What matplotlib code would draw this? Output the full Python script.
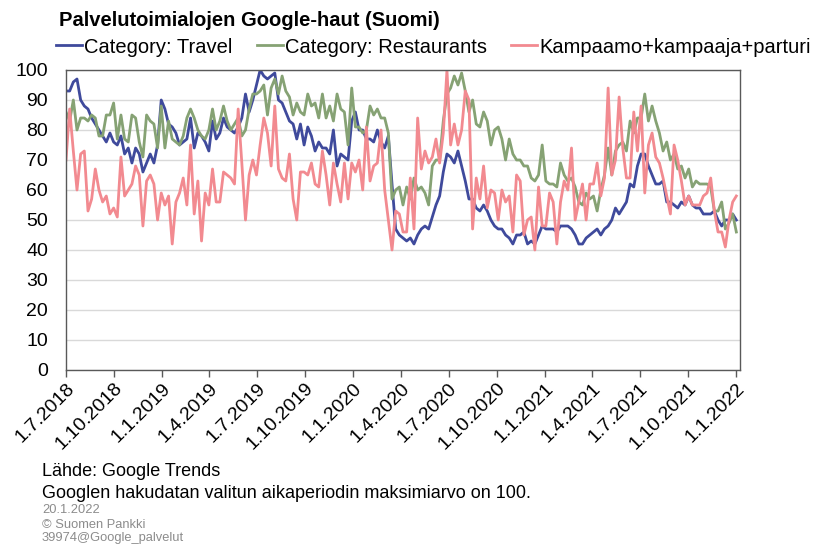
import matplotlib
matplotlib.use('Agg')
import matplotlib.pyplot as plt
import numpy as np
import pandas as pd

'''
Palvelutoimialojen Google-haut (Suomi), weekly Google Trends index
'''

plt.rcParams['font.family'] = ['Liberation Sans', 'DejaVu Sans']

start = '2018-07-01'
n_weeks = 184

travel = [93, 93, 96, 97, 90, 88, 87, 84, 82, 80,
          78, 76, 79, 76, 75, 78, 72, 74, 69, 74,
          72, 66, 69, 72, 69, 75, 90, 87, 82, 81,
          79, 75, 76, 77, 84, 74, 79, 78, 76, 73,
          83, 77, 79, 84, 81, 80, 79, 81, 84, 92,
          86, 90, 95, 100, 98, 97, 98, 99, 90, 89,
          86, 83, 82, 77, 82, 75, 81, 78, 73, 76,
          74, 74, 72, 80, 68, 72, 71, 70, 83, 86,
          80, 80, 77, 77, 76, 80, 76, 74, 78, 62,
          47, 45, 44, 43, 44, 42, 45, 47, 48, 47,
          51, 55, 58, 66, 72, 71, 69, 73, 68, 63,
          57, 57, 54, 53, 55, 53, 50, 48, 47, 47,
          45, 44, 42, 45, 45, 46, 42, 43, 42, 45,
          48, 47, 47, 47, 46, 48, 48, 48, 47, 45,
          42, 42, 44, 45, 46, 47, 45, 47, 48, 50,
          54, 52, 54, 56, 62, 61, 68, 72, 72, 68,
          65, 62, 62, 63, 56, 56, 55, 54, 56, 55,
          58, 55, 54, 54, 52, 52, 52, 53, 50, 48,
          50, 50, 52, 50]

restaurants = [86, 83, 90, 80, 84, 84, 83, 85, 84, 78,
               78, 85, 85, 89, 77, 85, 77, 76, 85, 84,
               76, 71, 85, 83, 82, 74, 88, 74, 83, 77,
               76, 75, 78, 84, 87, 84, 80, 78, 77, 80,
               87, 80, 83, 88, 83, 80, 82, 84, 78, 80,
               87, 92, 92, 93, 95, 85, 94, 97, 92, 98,
               93, 91, 85, 89, 86, 85, 92, 88, 89, 84,
               92, 84, 88, 83, 92, 87, 86, 75, 94, 81,
               81, 79, 80, 88, 85, 87, 84, 84, 79, 57,
               60, 61, 55, 61, 57, 64, 60, 61, 59, 55,
               68, 70, 70, 83, 92, 94, 98, 95, 99, 93,
               86, 90, 82, 81, 86, 83, 75, 80, 81, 77,
               70, 77, 72, 70, 70, 68, 68, 64, 63, 65,
               75, 63, 62, 62, 61, 69, 65, 63, 64, 61,
               56, 55, 59, 57, 58, 53, 60, 65, 74, 65,
               73, 75, 76, 73, 83, 79, 84, 84, 92, 83,
               88, 83, 79, 73, 76, 70, 72, 67, 68, 64,
               67, 61, 63, 62, 62, 62, 61, 53, 53, 56,
               47, 49, 52, 46]

hair = [70, 87, 73, 60, 72, 73, 53, 57, 67, 60,
        56, 58, 52, 54, 51, 71, 58, 60, 62, 68,
        65, 48, 63, 65, 62, 50, 59, 55, 58, 42,
        56, 59, 64, 55, 75, 52, 63, 43, 59, 55,
        67, 56, 56, 66, 65, 64, 62, 87, 69, 50,
        65, 70, 65, 75, 84, 79, 68, 88, 67, 64,
        63, 72, 57, 50, 66, 66, 65, 69, 62, 61,
        73, 65, 55, 69, 62, 56, 69, 57, 69, 66,
        70, 60, 81, 63, 68, 69, 80, 60, 50, 40,
        53, 52, 46, 46, 64, 47, 84, 67, 73, 69,
        71, 77, 69, 79, 100, 75, 82, 75, 80, 93,
        90, 47, 64, 57, 68, 54, 60, 59, 50, 60,
        56, 58, 46, 65, 63, 45, 50, 51, 40, 61,
        48, 48, 59, 56, 42, 56, 63, 60, 74, 50,
        56, 62, 50, 62, 62, 69, 58, 64, 94, 65,
        70, 91, 74, 64, 64, 86, 73, 88, 59, 75,
        79, 71, 69, 64, 58, 52, 75, 70, 63, 55,
        58, 55, 55, 55, 58, 59, 64, 53, 46, 46,
        41, 50, 56, 58]

labels = ['Category: Travel', 'Category: Restaurants', 'Kampaamo+kampaaja+parturi']
colors = ['#3f4a9c', '#86a274', '#f28a90']
tick_dates = pd.date_range('2018-07-01', '2022-01-01', freq='QS')

dates = pd.date_range(start, periods=n_weeks, freq='7D')

fig = plt.figure(figsize=(8.14, 5.45), dpi=100)
ax = fig.add_axes([66 / 814, 1 - 370 / 545, (740 - 66) / 814, 300 / 545])

for vals, lab, col in zip([travel, restaurants, hair], labels, colors):
    ax.plot(dates, vals, color=col, lw=2.0, label=lab)

ax.set_ylim(0, 100)
ax.set_yticks(np.arange(0, 101, 10))
ax.set_xlim(dates[0], dates[-1] + pd.Timedelta(days=7))
ax.set_xticks(tick_dates)
ax.set_xticklabels(['%d.%d.%d' % (d.day, d.month, d.year) for d in tick_dates],
                   rotation=45, ha='right', rotation_mode='anchor')
ax.grid(axis='y', color='#d9d9d9', lw=1.0)
ax.set_axisbelow(True)
for s in ax.spines.values():
    s.set_color('#595959')
    s.set_linewidth(1.0)
ax.tick_params(axis='x', length=5, width=1, color='#595959', labelsize=14, pad=2)
ax.tick_params(axis='y', length=0, labelsize=14, pad=13)

fig.text(59 / 814, 1 - 26 / 545, 'Palvelutoimialojen Google-haut (Suomi)',
         fontsize=14.5, fontweight='bold', va='baseline')
fig.legend(loc='center left', bbox_to_anchor=(56 / 814, 1 - 47 / 545), ncol=3,
           frameon=False, fontsize=14.5, handlelength=1.3, handletextpad=0.1,
           columnspacing=1.2, borderaxespad=0, borderpad=0)

fig.text(42 / 814, 1 - 476 / 545, 'Lähde: Google Trends', fontsize=13, va='baseline')
fig.text(42 / 814, 1 - 498 / 545, 'Googlen hakudatan valitun aikaperiodin maksimiarvo on 100.',
         fontsize=13, va='baseline')
fig.text(42 / 814, 1 - 513 / 545, '20.1.2022', fontsize=9.3, color='#8c8c8c', va='baseline')
fig.text(42 / 814, 1 - 528 / 545, '© Suomen Pankki', fontsize=9.3, color='#8c8c8c', va='baseline')
fig.text(42 / 814, 1 - 541 / 545, '39974@Google_palvelut', fontsize=9.3, color='#8c8c8c', va='baseline')

fig.savefig('out.png', dpi=100)
